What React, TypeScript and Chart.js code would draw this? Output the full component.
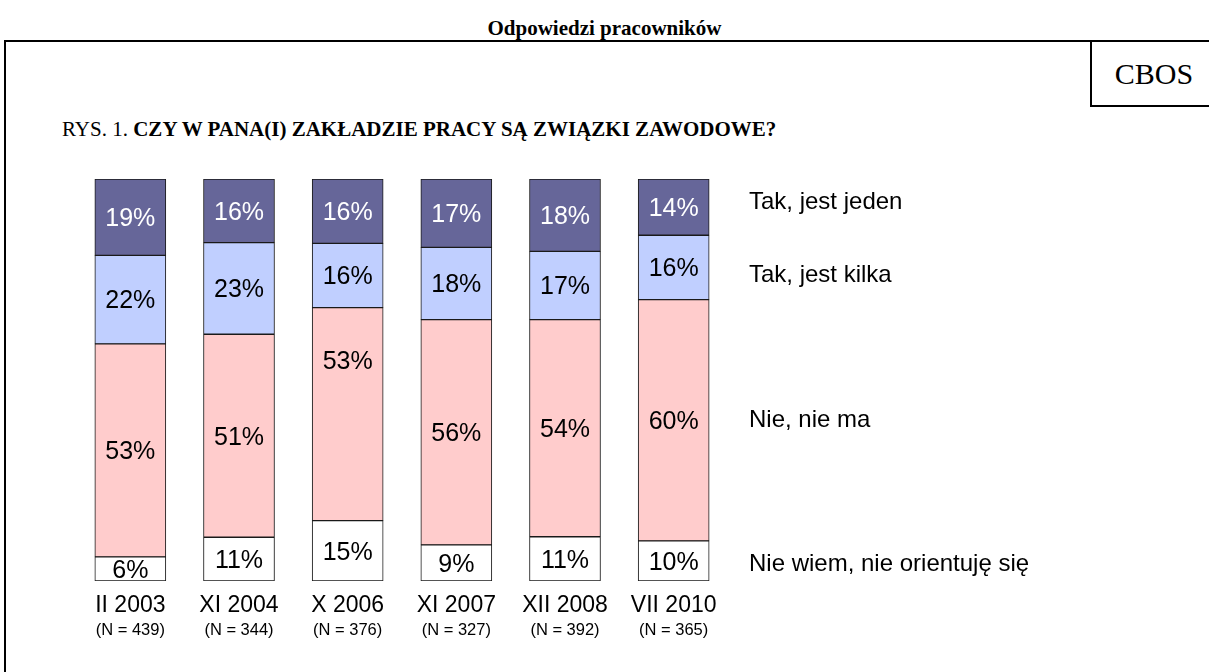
import React, { useEffect, useRef } from "react";
import { Chart, registerables } from "chart.js";

Chart.register(...registerables);

const categories = ["II 2003", "XI 2004", "X 2006", "XI 2007", "XII 2008", "VII 2010"];
const sampleSizes = ["(N = 439)", "(N = 344)", "(N = 376)", "(N = 327)", "(N = 392)", "(N = 365)"];
const seriesNames = ["Nie wiem, nie orientuję się", "Nie, nie ma", "Tak, jest kilka", "Tak, jest jeden"];
const nieWiem = [6, 11, 15, 9, 11, 10];
const nieNieMa = [53, 51, 53, 56, 54, 60];
const takKilka = [22, 23, 16, 18, 17, 16];
const takJeden = [19, 16, 16, 17, 18, 14];
const seriesColors = ["#FFFFFF", "#FFCCCC", "#C0CFFF", "#666699"];
const labelColors = ["#000000", "#000000", "#000000", "#FFFFFF"];

const rawSeries = [nieWiem, nieNieMa, takKilka, takJeden];
const totals = categories.map((_, i) => rawSeries.reduce((s, arr) => s + arr[i], 0));
const normalized = rawSeries.map((arr) => arr.map((v, i) => (v / totals[i]) * 100));

const FONT = "'Liberation Sans', Arial, sans-serif";

const labelsPlugin = {
  id: "customLabels",
  afterDatasetsDraw(chart: any) {
    const ctx = chart.ctx;
    const area = chart.chartArea;
    ctx.save();
    ctx.textAlign = "center";
    ctx.textBaseline = "middle";
    ctx.font = `25px ${FONT}`;
    chart.data.datasets.forEach((ds: any, di: number) => {
      const meta = chart.getDatasetMeta(di);
      meta.data.forEach((el: any, i: number) => {
        const cy = (el.y + el.base) / 2;
        let off = 0;
        if (di === 1 && i === 2) off = -54;
        ctx.fillStyle = labelColors[di];
        ctx.fillText(rawSeries[di][i] + "%", el.x, cy + off + 2);
      });
    });
    // category labels
    const xs = chart.scales.x;
    categories.forEach((c, i) => {
      const x = xs.getPixelForValue(i);
      ctx.fillStyle = "#000";
      ctx.font = `23px ${FONT}`;
      ctx.fillText(c, x, area.bottom + 25);
      ctx.font = `16.5px ${FONT}`;
      ctx.fillText(sampleSizes[i], x, area.bottom + 49);
    });
    // series names at right of last bar
    const lastIdx = categories.length - 1;
    ctx.textAlign = "left";
    ctx.font = `24px ${FONT}`;
    const legendOff = [2, -1, 7, -6];
    chart.data.datasets.forEach((ds: any, di: number) => {
      const el = chart.getDatasetMeta(di).data[lastIdx];
      const cy = (el.y + el.base) / 2;
      ctx.fillStyle = "#000";
      ctx.fillText(seriesNames[di], 749, cy + legendOff[di] + 1);
    });
    ctx.restore();
  },
};

export default function App() {
  const ref = useRef<HTMLCanvasElement>(null);
  useEffect(() => {
    if (!ref.current) return;
    const chart = new Chart(ref.current, {
      type: "bar",
      data: {
        labels: categories,
        datasets: normalized.map((d, di) => ({
          label: seriesNames[di],
          data: d,
          backgroundColor: seriesColors[di],
          borderColor: "#1a1a1a",
          borderWidth: 1,
          borderSkipped: false,
          barThickness: 71,
        })),
      },
      options: {
        animation: false,
        responsive: false,
        layout: { padding: { left: 76, right: 481, top: 179, bottom: 91 } },
        plugins: { legend: { display: false }, tooltip: { enabled: false }, title: { display: false } },
        scales: {
          x: { stacked: true, display: false },
          y: { stacked: true, display: false, min: 0, max: 100 },
        },
      },
      plugins: [labelsPlugin],
    });
    return () => chart.destroy();
  }, []);

  const serif = "'Liberation Serif', 'Times New Roman', serif";
  return (
    <div style={{ position: "absolute", left: 0, top: 0, width: 1209, height: 672, overflow: "hidden", background: "#fff" }}>
      <div style={{ position: "absolute", left: 0, top: 16, width: 1209, textAlign: "center", font: `bold 21px ${serif}`, lineHeight: "24px" }}>
        Odpowiedzi pracowników
      </div>
      <div style={{ position: "absolute", left: 4, top: 40, width: 1300, height: 700, borderTop: "2px solid #000", borderLeft: "2px solid #000" }} />
      <div style={{ position: "absolute", left: 1090, top: 40, width: 200, height: 63, border: "2px solid #000", boxSizing: "content-box" }}>
        <div style={{ position: "absolute", left: 2, width: 120, top: 0, height: 63, textAlign: "center", font: `30px ${serif}`, lineHeight: "63px" }}>CBOS</div>
      </div>
      <div style={{ position: "absolute", left: 62, top: 117, font: `21px ${serif}`, lineHeight: "24px", whiteSpace: "nowrap" }}>
        RYS. 1. <b>CZY W PANA(I) ZAKŁADZIE PRACY SĄ ZWIĄZKI ZAWODOWE?</b>
      </div>
      <canvas ref={ref} width={1209} height={672} style={{ position: "absolute", left: 0, top: 0, width: 1209, height: 672 }} />
    </div>
  );
}
